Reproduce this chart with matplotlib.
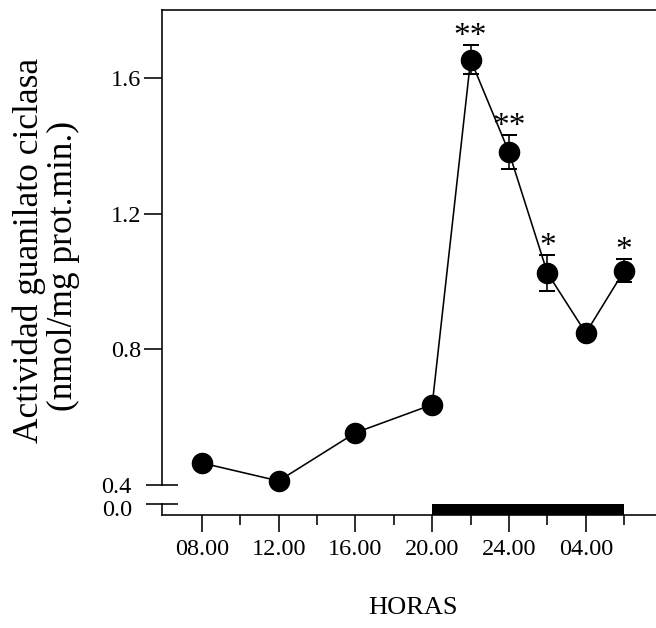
import matplotlib
matplotlib.use("Agg")
import matplotlib.pyplot as plt
from matplotlib.lines import Line2D

plt.rcParams['font.family'] = ['Liberation Serif', 'DejaVu Serif']

# ---- data ----
hours = [8, 12, 16, 20, 22, 24, 26, 28, 30]
activity = [0.465, 0.412, 0.554, 0.637, 1.654, 1.381, 1.025, 0.848, 1.032]
sem = [0.0, 0.0, 0.0, 0.0, 0.043, 0.050, 0.052, 0.0, 0.034]
stars = ['', '', '', '', '**', '**', '*', '', '*']

major_hours = [8, 12, 16, 20, 24, 28]
major_labels = ['08.00', '12.00', '16.00', '20.00', '24.00', '04.00']
minor_hours = [10, 14, 18, 22, 26, 30]
y_ticks = [0.8, 1.2, 1.6]
y_tick_labels = ['0.8', '1.2', '1.6']
dark_start, dark_end = 20, 30

W, H = 656, 628
fig = plt.figure(figsize=(W / 100, H / 100), dpi=100)
left_px, right_px, top_px, bottom_px = 161.5, 656, 10, 515
ax = fig.add_axes([left_px / W, 1 - bottom_px / H, (right_px - left_px) / W,
                   (bottom_px - top_px) / H])

px_per_unit = (485 - 78) / 1.2
ymin = 0.4 - (bottom_px - 485) / px_per_unit
ymax = 1.6 + (78 - top_px) / px_per_unit
ybar = ymin + (bottom_px - 504) / px_per_unit
ax.set_ylim(ymin, ymax)
x0 = 5.9
ax.set_xlim(x0, x0 + (right_px - left_px) / 19.2)

lw = 1.15
# dark period bar
ax.axvspan(dark_start, dark_end, ymin=0, ymax=11 / (bottom_px - top_px),
           color='black', lw=0, zorder=1)

# error bars and data
ax.errorbar(hours, activity, yerr=sem, fmt='none', ecolor='black',
            elinewidth=lw, capsize=6, capthick=lw + 0.3, zorder=2, clip_on=False)
ax.plot(hours, activity, '-', color='black', lw=lw, marker='o',
        markersize=14.5, markerfacecolor='black', markeredgecolor='black',
        zorder=3, clip_on=False)

for h, v, e, s in zip(hours, activity, sem, stars):
    if s:
        ax.annotate(s, xy=(h, v + e), xytext=(0, 0), textcoords='offset points',
                    ha='center', va='baseline', fontsize=24)

# spines
for sp in ['left', 'bottom', 'top']:
    ax.spines[sp].set_linewidth(lw)
ax.spines['right'].set_visible(False)
ax.spines['left'].set_bounds(0.4, ymax)
ax.add_line(Line2D([x0, x0], [ymin, ybar], color='black', lw=lw, clip_on=False))

# y ticks
ax.set_yticks(y_ticks)
ax.set_yticklabels(y_tick_labels)
ax.set_yticks([0.4, ybar], minor=True)
ax.set_yticklabels(['0.4', ''], minor=True)
ax.tick_params(axis='y', which='major', direction='out', length=13, width=lw,
               labelsize=17.5, pad=1.5)
ax.tick_params(axis='y', which='minor', direction='inout', length=23, width=lw,
               labelsize=17.5, pad=10.4)
ax.text(-0.06, ymin + 4 / px_per_unit, '0.0', transform=ax.get_yaxis_transform(),
        ha='right', va='center', fontsize=17.5)

# x ticks
ax.set_xticks(major_hours)
ax.set_xticklabels(major_labels)
ax.set_xticks(minor_hours, minor=True)
ax.tick_params(axis='x', which='major', direction='out', length=12, width=lw,
               labelsize=17.5, pad=5)
ax.tick_params(axis='x', which='minor', direction='out', length=7, width=lw)

# labels
fig.text(29 / W, 1 - 250 / H, 'Actividad guanilato ciclasa', rotation=90,
         ha='center', va='center', fontsize=25.5)
fig.text(63 / W, 1 - 266 / H, '(nmol/mg prot.min.)', rotation=90,
         ha='center', va='center', fontsize=25.5)
fig.text(413 / W, 1 - 608 / H, 'HORAS', ha='center', va='center', fontsize=19)

fig.savefig('out.png', dpi=100)
